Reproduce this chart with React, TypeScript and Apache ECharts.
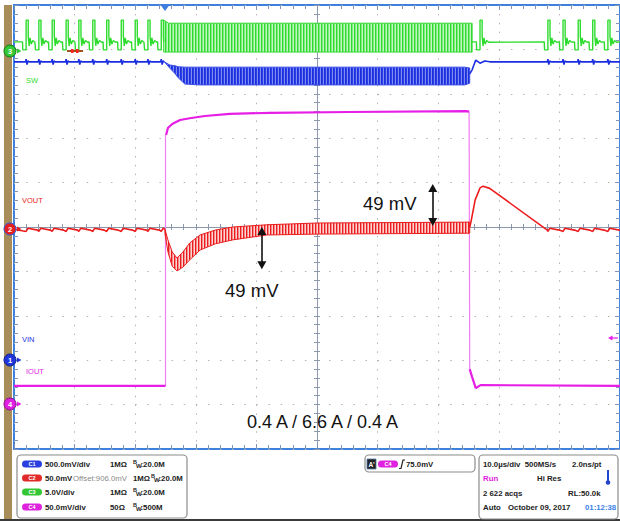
import { useEffect, useRef } from "react";
import * as echarts from "echarts";

// ---------------- data: time in µs (10 µs/div), amplitude in screen divisions ----------------
const timeMin = -50;
const timeMax = 50;
const divMin = -5;
const divMax = 5;

// C3 – SW
const swPulsesBefore = [-48.0, -45.9, -43.7, -41.4, -39.3, -37.0, -34.7, -32.3, -30.0, -27.9, -25.7];
const swPulsesAfter = [26.9, 38.1, 40.6, 43.1, 45.5, 48.0];
const swPulseDt = [-0.6, -0.55, 0, 0, 0.35, 0.35, 0.5, 0.65, 0.85, 1.1, 1.45];
const swPulseV = [4.17, 3.99, 3.99, 4.66, 4.66, 4.3, 4.08, 4.26, 4.12, 4.2, 4.16];
const swBase = 4.17;
const swBurstT = [-25.3, -24.5, 25.6];
const swBurstHi = [4.66, 4.59, 4.59];
const swBurstLo = [3.94, 3.94, 3.94];

// C1 – VIN
const vinBase = 3.72;
const vinGlitchDt = [-0.1, 0, 0.15, 0.3, 0.5];
const vinGlitchV = [3.72, 3.78, 3.66, 3.74, 3.72];
const vinBandT = [-25.2, -24.3, -23.4, -22.9, -21.8, -19.3, 24.4, 25.2];
const vinBandHi = [3.72, 3.65, 3.63, 3.61, 3.6, 3.6, 3.6, 3.58];
const vinBandLo = [3.72, 3.58, 3.45, 3.36, 3.22, 3.2, 3.2, 3.24];
const vinRecT = [25.2, 25.6, 26.2, 26.9, 27.7, 28.5];
const vinRecV = [3.45, 3.54, 3.76, 3.69, 3.74, 3.72];

// C2 – VOUT
const voutBase = -0.05;
const voutSawDt = [0, 0.3, 1.9];
const voutSawV = [-0.1, -0.03, -0.07];
const voutBandT = [-25.1, -24.6, -23.9, -23.1, -22.1, -21.0, -19.3, -16.8, -13.9, -8.3, 0, 25.2];
const voutBandHi = [-0.05, -0.29, -0.56, -0.7, -0.56, -0.36, -0.18, -0.07, 0.0, 0.05, 0.09, 0.11];
const voutBandLo = [-0.14, -0.56, -0.88, -0.99, -0.9, -0.74, -0.52, -0.38, -0.29, -0.18, -0.16, -0.14];
const voutRecT = [25.2, 25.4, 26.1, 26.9, 27.4, 28.5, 38.0];
const voutRecV = [0.0, 0.11, 0.61, 0.88, 0.92, 0.87, -0.07];

// C4 – IOUT
const ioutLow = -3.58;
const ioutRiseT = -25.0;
const ioutFallT = 25.1;
const ioutHighT = [-24.9, -24.6, -23.9, -22.6, -21.0, -18.5, -14.4, -7.8, 5.4, 24.6, 25.1];
const ioutHighV = [2.07, 2.23, 2.32, 2.41, 2.45, 2.5, 2.55, 2.57, 2.59, 2.61, 2.6];
const ioutTailT = [25.2, 25.6, 26.2, 27.0, 50];
const ioutTailV = [-3.2, -3.38, -3.63, -3.56, -3.58];

// annotation arrows (time, from, to)
const arrowT = [-9.1, 19.1];
const arrowFrom = [-0.09, 0.88];
const arrowTo = [-0.86, 0.11];

// ---------------- colours ----------------
const C_GREEN = "#2edc2e";
const C_BLUE = "#1c2fe0";
const C_RED = "#ec1c1c";
const C_MAG = "#e61ee6";
const FONT = '"Liberation Sans", Arial, sans-serif';

function pulses(times: number[], dts: number[], vals: number[], lo: number, hi: number) {
  const out: number[][] = [];
  times.forEach((t) =>
    dts.forEach((d, i) => {
      const x = t + d;
      if (x >= lo && x <= hi) out.push([x, vals[i]]);
    })
  );
  return out;
}

function zip(a: number[], b: number[]) {
  return a.map((v, i) => [v, b[i]]);
}

function stripes(cols: string[]): any {
  const c = document.createElement("canvas");
  c.width = cols.length;
  c.height = 4;
  const ctx = c.getContext("2d")!;
  cols.forEach((col, i) => {
    ctx.fillStyle = col;
    ctx.fillRect(i, 0, 1, 4);
  });
  return { image: c, repeat: "repeat", imageWidth: cols.length, imageHeight: 4 };
}

function band(name: string, ts: number[], hi: number[], lo: number[], fill: any, stroke: string, z: number) {
  return {
    type: "custom",
    name,
    xAxisIndex: 0,
    yAxisIndex: 0,
    z,
    silent: true,
    encode: { x: 0, y: 1 },
    data: [[ts[0], hi[0]]],
    renderItem: (_p: any, api: any) => {
      const pts: number[][] = [];
      for (let i = 0; i < ts.length; i++) pts.push(api.coord([ts[i], hi[i]]));
      for (let i = ts.length - 1; i >= 0; i--) pts.push(api.coord([ts[i], lo[i]]));
      return { type: "polygon", shape: { points: pts }, style: { fill, stroke, lineWidth: 1 } };
    },
  };
}

function line(name: string, data: number[][], color: string, width: number, z: number, extra: any = {}) {
  return {
    type: "line",
    name,
    xAxisIndex: 0,
    yAxisIndex: 0,
    data,
    symbol: "none",
    showSymbol: false,
    silent: true,
    z,
    lineStyle: { color, width },
    ...extra,
  };
}

function txt(x: number, y: number, s: string, o: any = {}) {
  const size = o.size ?? 7.8;
  const weight = o.bold === false ? "normal" : "bold";
  const align = o.align ?? "left";
  return {
    type: "text",
    x,
    y,
    silent: true,
    z: o.z ?? 100,
    style: {
      text: s,
      fill: o.fill ?? "#222",
      font: `${weight} ${size}px ${FONT}`,
      textAlign: align,
      textVerticalAlign: "middle",
      align,
      verticalAlign: "middle",
    },
  };
}

function pill(x: number, y: number, label: string, color: string) {
  return [
    { type: "rect", silent: true, z: 100, shape: { x, y: y - 3.5, width: 20, height: 7, r: 3.5 }, style: { fill: color } },
    txt(x + 10, y, label, { fill: "#fff", size: 5.5, align: "center", z: 101 }),
  ];
}

function bw(x: number, y: number, v: string) {
  return [
    txt(x, y - 2.5, "B", { size: 5.5 }),
    txt(x + 3, y + 1.8, "W", { size: 6 }),
    txt(x + 7.5, y, v),
  ];
}

function marker(y: number, n: string, color: string, ring: string) {
  return [
    { type: "circle", silent: true, z: 110, shape: { cx: 10, cy: y, r: 6 }, style: { fill: color, stroke: ring, lineWidth: 1 } },
    txt(10, y + 0.5, n, { fill: "#fff", size: 7.5, align: "center", z: 112 }),
    { type: "polygon", silent: true, z: 110, shape: { points: [[17, y - 2.5], [21.5, y], [17, y + 2.5]] }, style: { fill: color } },
  ];
}

function buildOption() {
  // SW trace
  const swA = [[timeMin, swBase], ...pulses(swPulsesBefore, swPulseDt, swPulseV, timeMin, swBurstT[0]), [swBurstT[0], swBase]];
  const swB = [[swBurstT[2], swBase], ...pulses(swPulsesAfter, swPulseDt, swPulseV, swBurstT[2], timeMax), [timeMax, swBase]];
  // VIN trace
  const vinA = [[timeMin, vinBase], ...pulses(swPulsesBefore, vinGlitchDt, vinGlitchV, timeMin, vinBandT[0]), [vinBandT[0], vinBase]];
  const vinB = [...zip(vinRecT, vinRecV), ...pulses(swPulsesAfter.slice(1), vinGlitchDt, vinGlitchV, 29, timeMax), [timeMax, vinBase]];
  // VOUT trace
  const voutA = [[timeMin, voutBase], ...pulses(swPulsesBefore, voutSawDt, voutSawV, timeMin, voutBandT[0]), [voutBandT[0], voutBase]];
  const voutB = [...zip(voutRecT, voutRecV), ...pulses(swPulsesAfter.slice(1), voutSawDt, voutSawV, 38, timeMax), [timeMax, -0.08]];
  // IOUT trace
  const ioutA = [[timeMin, ioutLow], [ioutRiseT, ioutLow]];
  const ioutHigh = zip(ioutHighT, ioutHighV);
  const ioutTail = zip(ioutTailT, ioutTailV);
  const ioutRise = [[ioutRiseT, ioutLow], [ioutRiseT, ioutHighV[0]]];
  const ioutFall = [[ioutFallT, ioutHighV[ioutHighV.length - 1]], [ioutTailT[0], ioutTailV[0]]];

  const greenFill = stripes(["#2edc2e", "#7fea7f", "#c4f6c4"]);
  const blueFill = stripes(["#1c2fe0", "#2b3ee4", "#7e8cf0"]);
  const redFill = stripes(["#ec1c1c", "#f48a8a", "#fbd4d4"]);

  const tickCol = "#8d98ad";
  const borderTick = "#7f93bb";
  const xBase = { type: "value", min: timeMin, max: timeMax, interval: 10, axisLabel: { show: false }, splitLine: { show: false } };
  const yBase = { type: "value", min: divMin, max: divMax, interval: 1, axisLabel: { show: false }, splitLine: { show: false } };

  const graphics: any[] = [
    { type: "rect", silent: true, z: 90, shape: { x: 4, y: 5, width: 8, height: 514 }, style: { fill: "#a88d5b" } },
    { type: "rect", silent: true, z: 90, shape: { x: 0, y: 519, width: 620, height: 2 }, style: { fill: "#3a3a3a" } },
    // trigger position marker
    { type: "polygon", silent: true, z: 110, shape: { points: [[160.5, 5], [169.5, 5], [165, 11]] }, style: { fill: "#3d7ee0" } },
    // trigger level arrow (right)
    { type: "polygon", silent: true, z: 110, shape: { points: [[608, 338], [612.5, 335.5], [612.5, 340.5]] }, style: { fill: C_MAG } },
    { type: "line", silent: true, z: 110, shape: { x1: 612, y1: 338, x2: 618, y2: 338 }, style: { stroke: C_MAG, lineWidth: 1.2 } },
    // cursor mark on SW baseline
    { type: "line", silent: true, z: 110, shape: { x1: 67, y1: 51, x2: 83, y2: 51 }, style: { stroke: "#a0501e", lineWidth: 2 } },
    { type: "rect", silent: true, z: 111, shape: { x: 71, y: 49, width: 2.5, height: 4 }, style: { fill: "#ff2020" } },
    { type: "rect", silent: true, z: 111, shape: { x: 76, y: 49, width: 2.5, height: 4 }, style: { fill: "#ff2020" } },
    // channel markers
    ...marker(51, "3", "#34c834", "#127a12"),
    ...marker(229, "2", "#e42020", "#2a5ad8"),
    ...marker(360, "1", "#2036d8", "#10208a"),
    ...marker(404, "4", "#e020e0", "#8a108a"),
    // trace labels
    txt(26, 80, "SW", { fill: C_GREEN, size: 7.5, bold: false }),
    txt(22, 200, "VOUT", { fill: C_RED, size: 7.5, bold: false }),
    txt(22, 339, "VIN", { fill: C_BLUE, size: 7.5, bold: false }),
    txt(26, 371, "IOUT", { fill: C_MAG, size: 7.5, bold: false }),
    // annotations
    txt(225, 290, "49 mV", { fill: "#111", size: 18.5, bold: false }),
    txt(363, 203, "49 mV", { fill: "#111", size: 18.5, bold: false }),
    txt(247, 422, "0.4 A / 6.6 A / 0.4 A", { fill: "#111", size: 18, bold: false }),
    // ---- info box 1
    { type: "rect", silent: true, z: 95, shape: { x: 17, y: 455, width: 170, height: 63, r: 4 }, style: { fill: "#fff", stroke: "#8c8c8c", lineWidth: 1.2 } },
    ...pill(22, 464, "C1", "#2a3fe0"),
    txt(45, 464, "500.0mV/div"),
    txt(110, 464, "1MΩ"),
    ...bw(133, 464, ":20.0M"),
    ...pill(22, 478, "C2", "#e22a2a"),
    txt(45, 478, "50.0mV"),
    txt(73, 478, "Offset:906.0mV", { fill: "#8a8a8a", bold: false }),
    txt(133, 478, "1MΩ"),
    ...bw(151, 478, ":20.0M"),
    ...pill(22, 492, "C3", "#33c833"),
    txt(45, 492, "5.0V/div"),
    txt(110, 492, "1MΩ"),
    ...bw(133, 492, ":20.0M"),
    ...pill(22, 507, "C4", "#de22de"),
    txt(45, 507, "50.0mV/div"),
    txt(110, 507, "50Ω"),
    ...bw(133, 507, ":500M"),
    // ---- info box 2 (trigger)
    { type: "rect", silent: true, z: 95, shape: { x: 365, y: 455, width: 110, height: 17, r: 4 }, style: { fill: "#fff", stroke: "#8c8c8c", lineWidth: 1.2 } },
    { type: "rect", silent: true, z: 100, shape: { x: 367, y: 459, width: 9, height: 10 }, style: { fill: "#222", stroke: "#5577aa", lineWidth: 0.8 } },
    txt(371.5, 464, "A'", { fill: "#fff", size: 6.5, align: "center", z: 101 }),
    ...pill(378, 464, "C4", "#de22de"),
    { type: "polyline", silent: true, z: 100, shape: { points: [[399, 468.5], [401, 468.5], [403, 460], [405, 460]] }, style: { stroke: "#222", lineWidth: 1.2, fill: "none" } },
    txt(406, 464, "75.0mV"),
    // ---- info box 3 (timebase)
    { type: "rect", silent: true, z: 95, shape: { x: 479, y: 455, width: 139, height: 64, r: 4 }, style: { fill: "#fff", stroke: "#8c8c8c", lineWidth: 1.2 } },
    txt(483, 464, "10.0µs/div  500MS/s"),
    txt(572, 464, "2.0ns/pt"),
    txt(483, 478, "Run", { fill: "#e020e0" }),
    txt(537, 478, "Hi Res"),
    { type: "line", silent: true, z: 100, shape: { x1: 608, y1: 470, x2: 608, y2: 481 }, style: { stroke: "#2244cc", lineWidth: 2 } },
    { type: "circle", silent: true, z: 100, shape: { cx: 608, cy: 482.5, r: 2.3 }, style: { fill: "#2244cc" } },
    txt(483, 493, "2 622 acqs"),
    txt(568, 493, "RL:50.0k"),
    txt(483, 507, "Auto"),
    txt(508, 507, "October 09, 2017"),
    txt(585, 507, "01:12:38", { fill: "#3b82e8" }),
  ];

  return {
    animation: false,
    backgroundColor: "#ffffff",
    grid: { left: 14, top: 5, width: 606, height: 444, show: true, borderColor: "#4080dd", borderWidth: 2, backgroundColor: "#fff" },
    xAxis: [
      {
        ...xBase,
        position: "bottom",
        axisLine: { show: true, onZero: true, onZeroAxisIndex: 0, lineStyle: { color: tickCol, width: 1 } },
        axisTick: { show: true, inside: true, length: 3, lineStyle: { color: tickCol } },
        minorTick: { show: true, splitNumber: 5, length: 3, lineStyle: { color: tickCol } },
        splitLine: { show: true, lineStyle: { color: "#b4b4b4", width: 1, type: [1.5, 7.38] } },
      },
      {
        ...xBase,
        position: "top",
        axisLine: { show: false, onZero: true, onZeroAxisIndex: 0 },
        axisTick: { show: true, inside: true, length: 3, lineStyle: { color: tickCol } },
        minorTick: { show: true, splitNumber: 5, length: 3, lineStyle: { color: tickCol } },
      },
      {
        ...xBase,
        position: "bottom",
        axisLine: { show: false, onZero: false },
        axisTick: { show: true, inside: true, length: 5, lineStyle: { color: borderTick } },
        minorTick: { show: true, splitNumber: 5, length: 4, lineStyle: { color: borderTick } },
      },
      {
        ...xBase,
        position: "top",
        axisLine: { show: false, onZero: false },
        axisTick: { show: true, inside: true, length: 5, lineStyle: { color: borderTick } },
        minorTick: { show: true, splitNumber: 5, length: 4, lineStyle: { color: borderTick } },
      },
    ],
    yAxis: [
      {
        ...yBase,
        position: "left",
        axisLine: { show: true, onZero: true, onZeroAxisIndex: 0, lineStyle: { color: tickCol, width: 1 } },
        axisTick: { show: true, inside: true, length: 3, lineStyle: { color: tickCol } },
        minorTick: { show: true, splitNumber: 5, length: 3, lineStyle: { color: tickCol } },
        splitLine: { show: true, lineStyle: { color: "#b4b4b4", width: 1, type: [1.5, 10.62] } },
      },
      {
        ...yBase,
        position: "right",
        axisLine: { show: false, onZero: true, onZeroAxisIndex: 0 },
        axisTick: { show: true, inside: true, length: 3, lineStyle: { color: tickCol } },
        minorTick: { show: true, splitNumber: 5, length: 3, lineStyle: { color: tickCol } },
      },
      {
        ...yBase,
        position: "left",
        axisLine: { show: false, onZero: false },
        axisTick: { show: true, inside: true, length: 5, lineStyle: { color: borderTick } },
        minorTick: { show: true, splitNumber: 5, length: 4, lineStyle: { color: borderTick } },
      },
      {
        ...yBase,
        position: "right",
        axisLine: { show: false, onZero: false },
        axisTick: { show: true, inside: true, length: 5, lineStyle: { color: borderTick } },
        minorTick: { show: true, splitNumber: 5, length: 4, lineStyle: { color: borderTick } },
      },
    ],
    series: [
      // IOUT
      line("IOUT edge rise", ioutRise, "#f07ef0", 1.2, 3),
      line("IOUT edge fall", ioutFall, "#f07ef0", 1.2, 3),
      line("IOUT low", ioutA, C_MAG, 2.2, 4),
      line("IOUT high", ioutHigh, C_MAG, 2.2, 4),
      line("IOUT tail", ioutTail, C_MAG, 2.2, 4),
      // SW
      line("SW a", swA, C_GREEN, 1.4, 5),
      band("SW burst", swBurstT, swBurstHi, swBurstLo, greenFill, "#35d835", 5),
      line("SW b", swB, C_GREEN, 1.4, 5),
      // VIN
      line("VIN a", vinA, C_BLUE, 1.6, 5),
      band("VIN burst", vinBandT, vinBandHi, vinBandLo, blueFill, "#3a4ce8", 5),
      line("VIN b", vinB, C_BLUE, 1.6, 5),
      // VOUT
      line("VOUT a", voutA, C_RED, 1.6, 6),
      band("VOUT ripple", voutBandT, voutBandHi, voutBandLo, redFill, C_RED, 6),
      line("VOUT b", voutB, C_RED, 1.6, 6),
      // annotation arrows (drawn above traces)
      line("annotation", [[arrowT[0], arrowFrom[0]]], "rgba(0,0,0,0)", 0, 20, {
        markLine: {
          silent: true,
          z: 40,
          symbol: ["triangle", "triangle"],
          symbolSize: [9, 8],
          label: { show: false },
          lineStyle: { color: "#111", width: 1.6, type: "solid" },
          data: arrowT.map((t, i) => [{ coord: [t, arrowFrom[i]] }, { coord: [t, arrowTo[i]] }]),
        },
      }),
    ],
    graphic: { elements: graphics },
  };
}

export default function App() {
  const ref = useRef<HTMLDivElement>(null);
  useEffect(() => {
    if (!ref.current) return;
    const chart = echarts.init(ref.current, null, { renderer: "svg" });
    chart.setOption(buildOption() as any);
    return () => chart.dispose();
  }, []);
  return (
    <div
      ref={ref}
      style={{ position: "fixed", left: 0, top: 0, width: 620, height: 521, background: "#fff" }}
    />
  );
}
